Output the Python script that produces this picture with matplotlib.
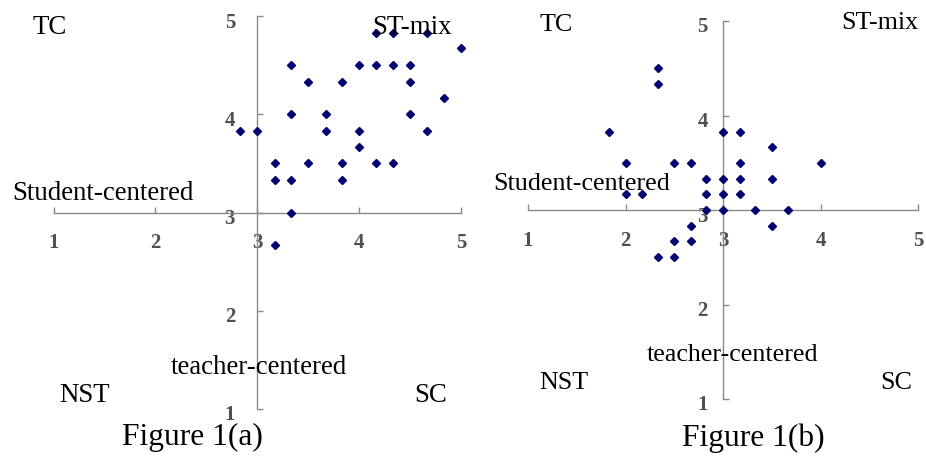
import matplotlib
matplotlib.use("Agg")
import matplotlib.pyplot as plt
from matplotlib.transforms import ScaledTranslation

# data
a_x = [2.83, 3.0, 3.33, 3.33, 3.17, 3.17, 3.33, 3.33, 3.5, 3.5, 3.67, 3.67,
       3.83, 3.83, 3.83, 4.0, 4.0, 4.0, 4.17, 4.17, 4.17, 4.33, 4.33, 4.33,
       4.5, 4.5, 4.5, 4.67, 4.67, 4.83, 5.0, 3.17]
a_y = [3.83, 3.83, 4.5, 4.0, 3.5, 3.33, 3.33, 3.0, 4.33, 3.5, 4.0, 3.83,
       4.33, 3.5, 3.33, 4.5, 3.83, 3.67, 4.83, 4.5, 3.5, 4.83, 4.5, 3.5,
       4.5, 4.33, 4.0, 4.83, 3.83, 4.17, 4.67, 2.67]

b_x = [2.33, 2.33, 1.83, 2.0, 2.5, 2.67, 2.0, 2.17, 2.83, 2.83, 2.83, 3.0,
       3.0, 3.0, 3.0, 3.17, 3.17, 3.17, 3.17, 3.33, 3.5, 3.5, 3.67, 4.0,
       2.67, 3.5, 2.5, 2.67, 2.33, 2.5]
b_y = [4.5, 4.33, 3.83, 3.5, 3.5, 3.5, 3.17, 3.17, 3.33, 3.17, 3.0, 3.83,
       3.33, 3.17, 3.0, 3.83, 3.5, 3.33, 3.17, 3.0, 3.67, 3.33, 3.0, 3.5,
       2.83, 2.83, 2.67, 2.67, 2.5, 2.5]

ticks = [1, 2, 3, 4, 5]
quad_labels = ["TC", "ST-mix", "Student-centered", "teacher-centered", "NST", "SC"]
captions = ["Figure 1(a)", "Figure 1(b)"]

W, H = 926, 459
fig = plt.figure(figsize=(W / 100, H / 100), dpi=100)
serif = "Liberation Serif"
grey = "#8a8a8a"


def px_axes(x0, x1, y0, y1):
    # x0,x1: pixel of data 1 and 5 ; y0,y1: pixel (from top) of data 1 and 5
    return fig.add_axes([x0 / W, 1 - y0 / H, (x1 - x0) / W, (y0 - y1) / H])


def setup(ax, xs, ys, ypad):
    ax.set_xlim(1, 5)
    ax.set_ylim(1, 5)
    ax.patch.set_alpha(0)
    for s in ["top", "right"]:
        ax.spines[s].set_visible(False)
    for s in ["left", "bottom"]:
        ax.spines[s].set_position(("data", 3))
        ax.spines[s].set_color(grey)
        ax.spines[s].set_linewidth(1)
    ax.set_xticks(ticks)
    ax.set_yticks(ticks)
    ax.tick_params(axis="x", direction="in", length=4, width=1, color=grey, pad=15)
    ax.tick_params(axis="y", direction="in", length=4, width=1, color=grey, pad=ypad)
    for lab in ax.get_xticklabels() + ax.get_yticklabels():
        lab.set_fontfamily(serif)
        lab.set_fontweight("bold")
        lab.set_fontsize(15)
        lab.set_color("#505050")
    off = ScaledTranslation(0, -4 / 100, fig.dpi_scale_trans)
    for lab in ax.get_yticklabels():
        lab.set_transform(lab.get_transform() + off)
    ax.plot(xs, ys, linestyle="none", marker="D", markersize=3.8,
            color="#000070", clip_on=False, zorder=3)


ax1 = px_axes(53.5, 461, 409, 16)
setup(ax1, a_x, a_y, 16)
ax2 = px_axes(528, 918, 399, 21)
setup(ax2, b_x, b_y, 11)


def ftxt(x, y, s, size):
    fig.text(x / W, 1 - y / H, s, ha="left", va="center", fontsize=size,
             family=serif, color="black")


# panel (a) labels
pos_a = [(33, 28), (372, 27), (12, 193), (171, 368), (59, 396), (414, 396)]
for (x, y), s in zip(pos_a, quad_labels):
    ftxt(x, y, s, 19.4)
ftxt(122, 437, captions[0], 22.7)

# panel (b) labels
pos_b = [(539, 25), (841, 23), (493, 184), (647, 355), (539, 383), (880, 383)]
for (x, y), s in zip(pos_b, quad_labels):
    ftxt(x, y, s, 18.7)
ftxt(682, 438, captions[1], 22.7)

fig.savefig("out.png", dpi=100)
